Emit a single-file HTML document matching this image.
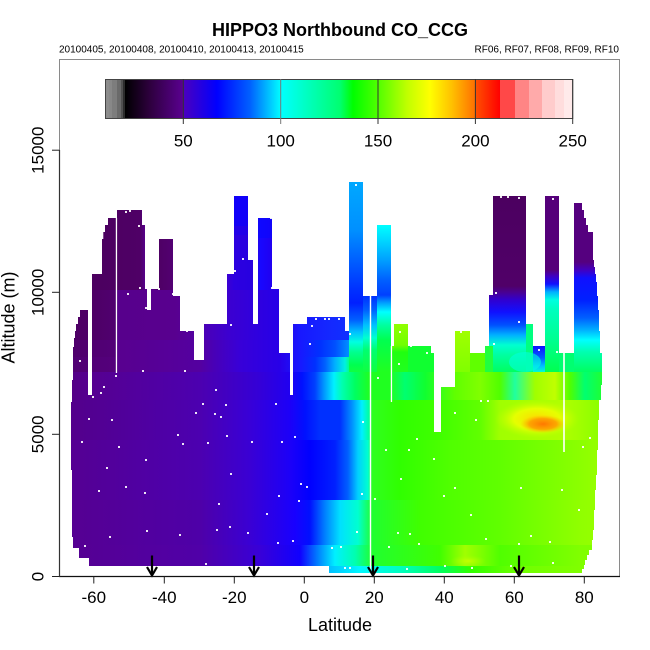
<!DOCTYPE html>
<html><head><meta charset="utf-8"><style>
html,body{margin:0;padding:0;background:#fff;}
svg{display:block;}
text{font-family:"Liberation Sans",Arial,sans-serif;fill:#000;}
</style></head><body>
<svg width="650" height="650" viewBox="0 0 650 650" xmlns="http://www.w3.org/2000/svg">
<defs>
<linearGradient id="cb" gradientUnits="userSpaceOnUse" x1="0" y1="0" x2="650" y2="0">
<stop offset="19.23%" stop-color="#000000"/><stop offset="23.08%" stop-color="#2e003e"/><stop offset="28.15%" stop-color="#5a0090"/><stop offset="28.31%" stop-color="#4a00c0"/><stop offset="33.38%" stop-color="#0000ff"/><stop offset="38.46%" stop-color="#0060ff"/><stop offset="43.23%" stop-color="#00ffff"/><stop offset="52.31%" stop-color="#00ff70"/><stop offset="54.31%" stop-color="#00ff00"/><stop offset="58.15%" stop-color="#50ff00"/><stop offset="62.62%" stop-color="#c0ff00"/><stop offset="66.15%" stop-color="#ffff00"/><stop offset="69.54%" stop-color="#ffc000"/><stop offset="73.08%" stop-color="#ff7000"/><stop offset="73.15%" stop-color="#ff5000"/><stop offset="76.92%" stop-color="#ff0000"/>
</linearGradient>
<linearGradient id="u1" gradientUnits="userSpaceOnUse" x1="0" y1="0" x2="650" y2="0">
<stop offset="9.23%" stop-color="#4a0060"/><stop offset="15.38%" stop-color="#4c0060"/><stop offset="21.54%" stop-color="#4f0066"/><stop offset="22.31%" stop-color="#56008a"/><stop offset="23.38%" stop-color="#56008a"/><stop offset="24.31%" stop-color="#4e0064"/><stop offset="26.46%" stop-color="#520070"/><stop offset="27.08%" stop-color="#58008f"/><stop offset="31.38%" stop-color="#58008f"/><stop offset="32.31%" stop-color="#4800b8"/><stop offset="35.08%" stop-color="#3a00d4"/><stop offset="36%" stop-color="#2c00e0"/><stop offset="38.46%" stop-color="#2800e0"/><stop offset="39.38%" stop-color="#3000d8"/><stop offset="40%" stop-color="#1808ff"/><stop offset="41.85%" stop-color="#2000f0"/><stop offset="43.08%" stop-color="#2600e8"/><stop offset="46.15%" stop-color="#1818ff"/><stop offset="53.69%" stop-color="#1828ff"/>
</linearGradient>
<linearGradient id="u2" gradientUnits="userSpaceOnUse" x1="0" y1="0" x2="650" y2="0">
<stop offset="9.23%" stop-color="#4d0064"/><stop offset="14.62%" stop-color="#4e0066"/><stop offset="17.85%" stop-color="#500070"/><stop offset="18.15%" stop-color="#57008c"/><stop offset="26.92%" stop-color="#58008f"/><stop offset="30%" stop-color="#5400a0"/><stop offset="31.54%" stop-color="#4a00b8"/><stop offset="35.08%" stop-color="#3c00d0"/><stop offset="40%" stop-color="#2e00e0"/><stop offset="43.85%" stop-color="#2400ea"/><stop offset="46.15%" stop-color="#1818ff"/><stop offset="50.77%" stop-color="#1428ff"/><stop offset="53.69%" stop-color="#1030ff"/>
</linearGradient>
<linearGradient id="u3a" gradientUnits="userSpaceOnUse" x1="0" y1="0" x2="650" y2="0">
<stop offset="9.23%" stop-color="#4e0068"/><stop offset="17.85%" stop-color="#520078"/><stop offset="18.15%" stop-color="#58008f"/><stop offset="30.77%" stop-color="#5400a0"/><stop offset="33.08%" stop-color="#4800b8"/><stop offset="36.92%" stop-color="#3800d8"/><stop offset="43.08%" stop-color="#2800e8"/><stop offset="46.15%" stop-color="#1818ff"/><stop offset="49.23%" stop-color="#0030ff"/><stop offset="51.54%" stop-color="#0050ff"/><stop offset="53.69%" stop-color="#0090ff"/>
</linearGradient>
<linearGradient id="u3b" gradientUnits="userSpaceOnUse" x1="0" y1="0" x2="650" y2="0">
<stop offset="9.23%" stop-color="#500070"/><stop offset="17.85%" stop-color="#54007c"/><stop offset="18.15%" stop-color="#58008f"/><stop offset="30.77%" stop-color="#5400a0"/><stop offset="33.08%" stop-color="#4800b8"/><stop offset="36.92%" stop-color="#3800d8"/><stop offset="43.08%" stop-color="#2800e8"/><stop offset="46.15%" stop-color="#1818ff"/><stop offset="48.46%" stop-color="#0030ff"/><stop offset="50%" stop-color="#0060ff"/><stop offset="51.54%" stop-color="#00b0ff"/><stop offset="53.08%" stop-color="#00f0e0"/><stop offset="53.69%" stop-color="#00ff90"/>
</linearGradient>
<linearGradient id="r1" gradientUnits="userSpaceOnUse" x1="0" y1="0" x2="650" y2="0">
<stop offset="9.23%" stop-color="#520080"/><stop offset="13.85%" stop-color="#560090"/><stop offset="30.77%" stop-color="#4c00b0"/><stop offset="40%" stop-color="#3400d8"/><stop offset="44.62%" stop-color="#2000f0"/><stop offset="46.46%" stop-color="#0010ff"/><stop offset="48.46%" stop-color="#0040ff"/><stop offset="50%" stop-color="#00a0ff"/><stop offset="51.38%" stop-color="#00f0ff"/><stop offset="52.62%" stop-color="#00ffb0"/><stop offset="54.62%" stop-color="#00ff60"/><stop offset="56.92%" stop-color="#20ff20"/><stop offset="60%" stop-color="#20ff20"/><stop offset="62.31%" stop-color="#00ff70"/><stop offset="65.38%" stop-color="#10ff30"/><stop offset="70%" stop-color="#60ff00"/><stop offset="73.85%" stop-color="#80ff00"/><stop offset="76.92%" stop-color="#50ff00"/><stop offset="79.23%" stop-color="#20ffa0"/><stop offset="82.31%" stop-color="#a0ff00"/><stop offset="85.38%" stop-color="#c0ff00"/><stop offset="87.69%" stop-color="#50ff00"/><stop offset="90%" stop-color="#00ff70"/><stop offset="92.77%" stop-color="#20ff30"/>
</linearGradient>
<linearGradient id="r2" gradientUnits="userSpaceOnUse" x1="0" y1="0" x2="650" y2="0">
<stop offset="9.23%" stop-color="#540088"/><stop offset="30.77%" stop-color="#4c00b0"/><stop offset="38.46%" stop-color="#3800d8"/><stop offset="44.62%" stop-color="#1c00f8"/><stop offset="46.92%" stop-color="#0010ff"/><stop offset="49.23%" stop-color="#0030ff"/><stop offset="52.31%" stop-color="#0030ff"/><stop offset="54.15%" stop-color="#0090ff"/><stop offset="55.69%" stop-color="#00f0ff"/><stop offset="56.77%" stop-color="#00ffa0"/><stop offset="57.23%" stop-color="#30ff20"/><stop offset="61.54%" stop-color="#30ff00"/><stop offset="67.69%" stop-color="#40ff00"/><stop offset="73.85%" stop-color="#60ff00"/><stop offset="76.92%" stop-color="#a0ff00"/><stop offset="86.15%" stop-color="#b0ff00"/><stop offset="89.23%" stop-color="#a0ff00"/><stop offset="92.77%" stop-color="#88ff00"/>
</linearGradient>
<linearGradient id="r3" gradientUnits="userSpaceOnUse" x1="0" y1="0" x2="650" y2="0">
<stop offset="9.23%" stop-color="#550090"/><stop offset="30.77%" stop-color="#4c00b0"/><stop offset="38.46%" stop-color="#3a00d4"/><stop offset="44.62%" stop-color="#1c00f8"/><stop offset="47.69%" stop-color="#0000ff"/><stop offset="51.54%" stop-color="#0020ff"/><stop offset="53.54%" stop-color="#0060ff"/><stop offset="55.08%" stop-color="#00d0ff"/><stop offset="56.62%" stop-color="#00ffd0"/><stop offset="57.23%" stop-color="#30ff20"/><stop offset="61.54%" stop-color="#30ff00"/><stop offset="69.23%" stop-color="#50ff00"/><stop offset="76.92%" stop-color="#60ff00"/><stop offset="86.15%" stop-color="#80ff00"/><stop offset="92.77%" stop-color="#98ff00"/>
</linearGradient>
<linearGradient id="r4" gradientUnits="userSpaceOnUse" x1="0" y1="0" x2="650" y2="0">
<stop offset="9.23%" stop-color="#560090"/><stop offset="30.77%" stop-color="#4e00a8"/><stop offset="38.46%" stop-color="#3a00d4"/><stop offset="45.38%" stop-color="#1800ff"/><stop offset="47.69%" stop-color="#0010ff"/><stop offset="50%" stop-color="#0080ff"/><stop offset="52.31%" stop-color="#00e0ff"/><stop offset="55.08%" stop-color="#00ffd0"/><stop offset="57.23%" stop-color="#20ff30"/><stop offset="64.62%" stop-color="#40ff00"/><stop offset="76.92%" stop-color="#60ff00"/><stop offset="89.23%" stop-color="#90ff00"/><stop offset="92.77%" stop-color="#98ff00"/>
</linearGradient>
<linearGradient id="r5" gradientUnits="userSpaceOnUse" x1="0" y1="0" x2="650" y2="0">
<stop offset="9.23%" stop-color="#560090"/><stop offset="30.77%" stop-color="#5000a8"/><stop offset="40%" stop-color="#3800d8"/><stop offset="46.15%" stop-color="#1000ff"/><stop offset="48.92%" stop-color="#0080ff"/><stop offset="51.54%" stop-color="#00f0ff"/><stop offset="54.62%" stop-color="#00ffb0"/><stop offset="57.23%" stop-color="#20ff30"/><stop offset="67.69%" stop-color="#40ff00"/><stop offset="71.54%" stop-color="#a0ff00"/><stop offset="73.85%" stop-color="#80ff00"/><stop offset="76.92%" stop-color="#50ff00"/><stop offset="89.23%" stop-color="#80ff00"/>
</linearGradient>
<linearGradient id="r6" gradientUnits="userSpaceOnUse" x1="0" y1="0" x2="650" y2="0">
<stop offset="50.62%" stop-color="#00c0ff"/><stop offset="55.38%" stop-color="#00f8ff"/><stop offset="61.54%" stop-color="#00ffc0"/><stop offset="67.69%" stop-color="#00ff60"/><stop offset="72.31%" stop-color="#30ff00"/><stop offset="80%" stop-color="#70ff00"/><stop offset="89.23%" stop-color="#80ff00"/>
</linearGradient>
<linearGradient id="m3" gradientUnits="userSpaceOnUse" x1="0" y1="0" x2="0" y2="650">
<stop offset="28%" stop-color="#00a8ff"/><stop offset="35.38%" stop-color="#0090ff"/><stop offset="40%" stop-color="#0060ff"/><stop offset="44.62%" stop-color="#0030ff"/><stop offset="46.62%" stop-color="#0020ff"/><stop offset="49.23%" stop-color="#0060ff"/><stop offset="51.08%" stop-color="#00c0ff"/><stop offset="52.62%" stop-color="#00ffe0"/><stop offset="54.15%" stop-color="#00ff90"/><stop offset="56.15%" stop-color="#00ff50"/><stop offset="57.23%" stop-color="#10ff40"/>
</linearGradient>
<linearGradient id="m4" gradientUnits="userSpaceOnUse" x1="0" y1="0" x2="0" y2="650">
<stop offset="45.54%" stop-color="#0030ff"/><stop offset="47.69%" stop-color="#0060ff"/><stop offset="50%" stop-color="#00c0ff"/><stop offset="52%" stop-color="#00ffd0"/><stop offset="53.85%" stop-color="#00ff70"/><stop offset="57.23%" stop-color="#10ff40"/>
</linearGradient>
<linearGradient id="m5" gradientUnits="userSpaceOnUse" x1="0" y1="0" x2="0" y2="650">
<stop offset="34.62%" stop-color="#00ffff"/><stop offset="36.92%" stop-color="#00d8ff"/><stop offset="40%" stop-color="#00a0ff"/><stop offset="43.08%" stop-color="#0060ff"/><stop offset="45.38%" stop-color="#0040ff"/><stop offset="46.62%" stop-color="#00a0ff"/><stop offset="48%" stop-color="#00ffff"/><stop offset="50%" stop-color="#00ffa0"/><stop offset="52.31%" stop-color="#00ff50"/><stop offset="57.23%" stop-color="#20ff20"/>
</linearGradient>
<linearGradient id="m6" gradientUnits="userSpaceOnUse" x1="0" y1="0" x2="0" y2="650">
<stop offset="49.85%" stop-color="#90ff00"/><stop offset="53.08%" stop-color="#70ff00"/><stop offset="54.15%" stop-color="#20ff10"/><stop offset="57.23%" stop-color="#20ff20"/>
</linearGradient>
<linearGradient id="m7" gradientUnits="userSpaceOnUse" x1="0" y1="0" x2="0" y2="650">
<stop offset="50.92%" stop-color="#a0ff00"/><stop offset="57.23%" stop-color="#80ff00"/>
</linearGradient>
<linearGradient id="m8" gradientUnits="userSpaceOnUse" x1="0" y1="0" x2="0" y2="650">
<stop offset="30.15%" stop-color="#4c0060"/><stop offset="44%" stop-color="#500068"/><stop offset="44.92%" stop-color="#4a0090"/><stop offset="46.15%" stop-color="#3000d0"/><stop offset="48%" stop-color="#1010ff"/><stop offset="50%" stop-color="#0050ff"/><stop offset="51.54%" stop-color="#00b0ff"/><stop offset="53.08%" stop-color="#00ffd0"/><stop offset="54.62%" stop-color="#00ffa0"/><stop offset="57.23%" stop-color="#00ff60"/>
</linearGradient>
<linearGradient id="m9b" gradientUnits="userSpaceOnUse" x1="0" y1="0" x2="0" y2="650">
<stop offset="53.23%" stop-color="#1010ff"/><stop offset="55.08%" stop-color="#0060ff"/><stop offset="56.31%" stop-color="#00c0ff"/><stop offset="57.23%" stop-color="#00ffd0"/>
</linearGradient>
<linearGradient id="m10" gradientUnits="userSpaceOnUse" x1="0" y1="0" x2="0" y2="650">
<stop offset="30.15%" stop-color="#55007a"/><stop offset="41.54%" stop-color="#55007a"/><stop offset="42.46%" stop-color="#4000c0"/><stop offset="43.69%" stop-color="#1010ff"/><stop offset="44.92%" stop-color="#00b0ff"/><stop offset="46.15%" stop-color="#00ffe0"/><stop offset="47.5%" stop-color="#00ffc0"/><stop offset="52.31%" stop-color="#00ff90"/><stop offset="57.23%" stop-color="#00ff50"/>
</linearGradient>
<linearGradient id="m12" gradientUnits="userSpaceOnUse" x1="0" y1="0" x2="0" y2="650">
<stop offset="31.23%" stop-color="#55007f"/><stop offset="40.31%" stop-color="#55007f"/><stop offset="41.54%" stop-color="#4200c0"/><stop offset="42.77%" stop-color="#1010ff"/><stop offset="46.15%" stop-color="#0020ff"/><stop offset="48.92%" stop-color="#0060ff"/><stop offset="50.77%" stop-color="#00b0ff"/><stop offset="52.31%" stop-color="#00ffff"/><stop offset="54.15%" stop-color="#00ffb0"/><stop offset="57.23%" stop-color="#00ff60"/>
</linearGradient>
<radialGradient id="hy">
<stop offset="0%" stop-color="#ffd800" stop-opacity="1"/><stop offset="55%" stop-color="#f0ff00" stop-opacity="0.85"/><stop offset="100%" stop-color="#c0ff00" stop-opacity="0"/>
</radialGradient>
<radialGradient id="ho">
<stop offset="0%" stop-color="#ff7800" stop-opacity="1"/><stop offset="60%" stop-color="#ff9800" stop-opacity="0.85"/><stop offset="100%" stop-color="#ffc000" stop-opacity="0"/>
</radialGradient>
<radialGradient id="hg">
<stop offset="0%" stop-color="#c8ff00" stop-opacity="0.9"/><stop offset="100%" stop-color="#a0ff00" stop-opacity="0"/>
</radialGradient>
<clipPath id="dc">
<polygon points="73,380 73,347 74,347 74,338 75,338 75,331 76,331 76,324 78,324 78,317 80,317 80,310 88,310 88,395 92,395 92,274 102,274 102,239 103.3,239 103.3,232 105,232 105,225 108,225 108,218 117,218 117,210 142,210 142,225 145,225 145,289 147,289 147,310 151,310 151,289 159,289 159,239 173,239 173,296 180,296 180,331 194,331 194,360 204,360 204,324 227,324 227,274 234,274 234,196 248,196 248,260 253,260 253,324 258,324 258,218 272,218 272,289 279,289 279,353 290,353 290,395 293,395 293,324 307,324 307,317 345,317 345,331 349,331 349,182 363,182 363,296 377,296 377,225 391,225 391,346 394,346 394,324 408,324 408,346 431,346 431,353 434,353 434,432 441,432 441,387 455,387 455,331 470,331 470,353 485,353 485,346 489,346 489,295 493,295 493,196 526,196 526,324 533,324 533,346 545,346 545,196 559,196 559,353 574,353 574,203 582,203 582,210 584,210 584,218 586,218 586,225 588,225 588,232 593,232 593,260 594,260 594,267 595,267 595,274 596,274 596,282 597,282 597,296 598,296 598,310 599,310 599,331 600,331 600,353 602,353 602,385 601,385 601,400 599,400 599,420 598,420 598,450 597,450 597,475 596,475 596,490 595,490 595,510 594,510 594,530 593,530 593,540 592,540 592,550 589,550 589,555 587,555 587,560 585,560 585,565 584,565 584,569 582,569 582,573 329,573 329,566 89,566 89,558 79,558 79,548 73,548 73,537 72,537 72,470 71,470 71,402 72,402 72,380"/>
</clipPath>
</defs>

<!-- heatmap -->
<g clip-path="url(#dc)">
<rect x="60" y="370" width="545" height="31" fill="url(#r1)"/>
<rect x="60" y="400" width="545" height="41" fill="url(#r2)"/>
<rect x="60" y="440" width="545" height="61" fill="url(#r3)"/>
<rect x="60" y="500" width="545" height="46" fill="url(#r4)"/>
<rect x="60" y="545" width="545" height="22" fill="url(#r5)"/>
<rect x="329" y="566" width="276" height="8" fill="url(#r6)"/>
<rect x="60" y="180" width="289" height="111" fill="url(#u1)"/>
<rect x="60" y="290" width="289" height="51" fill="url(#u2)"/>
<rect x="60" y="340" width="289" height="18" fill="url(#u3a)"/>
<rect x="60" y="357" width="289" height="15" fill="url(#u3b)"/>
<rect x="234" y="196" width="14" height="30" fill="#0a00ff" opacity="0.8"/>
<rect x="234" y="220" width="14" height="15" fill="#1800f0" opacity="0.5"/>
<rect x="258" y="218" width="14" height="20" fill="#0808ff" opacity="0.6"/>
<rect x="349" y="180" width="14" height="192" fill="url(#m3)"/>
<rect x="363" y="290" width="14" height="82" fill="url(#m4)"/>
<rect x="377" y="220" width="14" height="152" fill="url(#m5)"/>
<rect x="391" y="320" width="17" height="52" fill="url(#m6)"/>
<rect x="408" y="340" width="26" height="32" fill="#10ff30"/>
<rect x="455" y="325" width="15" height="47" fill="url(#m7)"/>
<rect x="470" y="340" width="15" height="32" fill="#60ff00"/>
<rect x="485" y="340" width="8" height="32" fill="#20ff40"/>
<rect x="489" y="290" width="4" height="56" fill="url(#m8)"/>
<rect x="493" y="190" width="33" height="182" fill="url(#m8)"/>
<rect x="526" y="320" width="7" height="52" fill="#00ff80"/>
<rect x="533" y="340" width="12" height="32" fill="url(#m9b)"/>
<rect x="545" y="190" width="14" height="182" fill="url(#m10)"/>
<rect x="559" y="350" width="15" height="22" fill="#00ff70"/>
<rect x="574" y="200" width="30" height="172" fill="url(#m12)"/>
<ellipse cx="537" cy="419" rx="42" ry="19" fill="url(#hy)"/>
<ellipse cx="543" cy="424" rx="23" ry="9" fill="url(#ho)"/>
<ellipse cx="468" cy="561" rx="18" ry="6" fill="url(#hg)"/>
<ellipse cx="525" cy="362" rx="16" ry="10" fill="#00ffe0" opacity="0.6"/>
<!-- white dots -->
<g fill="#ffffff" opacity="0.9">
<rect x="103" y="386" width="2" height="2"/><rect x="100" y="392" width="2" height="2"/><rect x="92" y="396" width="2" height="2"/><rect x="202" y="403" width="2" height="2"/><rect x="225" y="404" width="2" height="2"/><rect x="195" y="412" width="2" height="2"/><rect x="214" y="413" width="2" height="2"/><rect x="220" y="416" width="2" height="2"/><rect x="275" y="403" width="2" height="2"/><rect x="88" y="418" width="2" height="2"/><rect x="111" y="419" width="2" height="2"/><rect x="177" y="434" width="2" height="2"/><rect x="226" y="435" width="2" height="2"/><rect x="182" y="443" width="2" height="2"/><rect x="207" y="442" width="2" height="2"/><rect x="251" y="441" width="2" height="2"/><rect x="281" y="441" width="2" height="2"/><rect x="294" y="436" width="2" height="2"/><rect x="81" y="441" width="2" height="2"/><rect x="118" y="446" width="2" height="2"/><rect x="145" y="459" width="2" height="2"/><rect x="230" y="473" width="2" height="2"/><rect x="300" y="483" width="2" height="2"/><rect x="106" y="467" width="2" height="2"/><rect x="125" y="486" width="2" height="2"/><rect x="144" y="492" width="2" height="2"/><rect x="278" y="495" width="2" height="2"/><rect x="306" y="486" width="2" height="2"/><rect x="98" y="490" width="2" height="2"/><rect x="298" y="500" width="2" height="2"/><rect x="218" y="503" width="2" height="2"/><rect x="266" y="513" width="2" height="2"/><rect x="229" y="526" width="2" height="2"/><rect x="216" y="529" width="2" height="2"/><rect x="247" y="532" width="2" height="2"/><rect x="146" y="530" width="2" height="2"/><rect x="179" y="534" width="2" height="2"/><rect x="109" y="536" width="2" height="2"/><rect x="277" y="542" width="2" height="2"/><rect x="292" y="540" width="2" height="2"/><rect x="84" y="545" width="2" height="2"/><rect x="349" y="567" width="2" height="2"/><rect x="205" y="563" width="2" height="2"/><rect x="340" y="546" width="2" height="2"/>
<rect x="377" y="377" width="2" height="2"/><rect x="480" y="400" width="2" height="2"/><rect x="487" y="400" width="2" height="2"/><rect x="454" y="412" width="2" height="2"/><rect x="475" y="419" width="2" height="2"/><rect x="362" y="421" width="2" height="2"/><rect x="416" y="438" width="2" height="2"/><rect x="385" y="449" width="2" height="2"/><rect x="408" y="449" width="2" height="2"/><rect x="433" y="458" width="2" height="2"/><rect x="400" y="478" width="2" height="2"/><rect x="454" y="487" width="2" height="2"/><rect x="361" y="493" width="2" height="2"/><rect x="443" y="495" width="2" height="2"/><rect x="520" y="487" width="2" height="2"/><rect x="561" y="489" width="2" height="2"/><rect x="582" y="446" width="2" height="2"/><rect x="589" y="437" width="2" height="2"/><rect x="409" y="533" width="2" height="2"/><rect x="356" y="531" width="2" height="2"/><rect x="397" y="532" width="2" height="2"/><rect x="470" y="514" width="2" height="2"/><rect x="374" y="498" width="2" height="2"/><rect x="578" y="509" width="2" height="2"/><rect x="530" y="535" width="2" height="2"/><rect x="549" y="541" width="2" height="2"/><rect x="518" y="543" width="2" height="2"/><rect x="331" y="547" width="2" height="2"/><rect x="388" y="546" width="2" height="2"/><rect x="418" y="543" width="2" height="2"/><rect x="485" y="538" width="2" height="2"/><rect x="344" y="567" width="2" height="2"/><rect x="406" y="568" width="2" height="2"/><rect x="444" y="565" width="2" height="2"/><rect x="471" y="567" width="2" height="2"/><rect x="552" y="562" width="2" height="2"/><rect x="510" y="565" width="2" height="2"/>
<rect x="355" y="184" width="2" height="2"/><rect x="338" y="318" width="2" height="2"/><rect x="349" y="333" width="2" height="2"/><rect x="412" y="326" width="2" height="2"/><rect x="399" y="331" width="2" height="2"/><rect x="410" y="345" width="2" height="2"/><rect x="426" y="352" width="2" height="2"/><rect x="460" y="331" width="2" height="2"/><rect x="500" y="196" width="2" height="2"/><rect x="507" y="196" width="2" height="2"/><rect x="518" y="197" width="2" height="2"/><rect x="552" y="198" width="2" height="2"/><rect x="495" y="292" width="2" height="2"/><rect x="518" y="321" width="2" height="2"/><rect x="493" y="343" width="2" height="2"/><rect x="538" y="349" width="2" height="2"/><rect x="556" y="351" width="2" height="2"/><rect x="398" y="363" width="2" height="2"/>
<rect x="125" y="211" width="2" height="2"/><rect x="129" y="210" width="2" height="2"/><rect x="138" y="225" width="2" height="2"/><rect x="139" y="287" width="2" height="2"/><rect x="127" y="293" width="2" height="2"/><rect x="145" y="307" width="2" height="2"/><rect x="158" y="288" width="2" height="2"/><rect x="172" y="293" width="2" height="2"/><rect x="186" y="330" width="2" height="2"/><rect x="184" y="370" width="2" height="2"/><rect x="215" y="389" width="2" height="2"/><rect x="242" y="258" width="2" height="2"/><rect x="234" y="270" width="2" height="2"/><rect x="270" y="217" width="2" height="2"/><rect x="271" y="287" width="2" height="2"/><rect x="230" y="324" width="2" height="2"/><rect x="311" y="325" width="2" height="2"/><rect x="315" y="318" width="2" height="2"/><rect x="324" y="318" width="2" height="2"/><rect x="328" y="318" width="2" height="2"/><rect x="309" y="343" width="2" height="2"/><rect x="79" y="360" width="2" height="2"/><rect x="115" y="375" width="2" height="2"/><rect x="142" y="370" width="2" height="2"/>
</g>
<!-- white lines -->
<rect x="115.8" y="218" width="1.3" height="155" fill="#ffffff"/>
<rect x="369.8" y="296" width="1.4" height="278" fill="#ffffff"/>
<rect x="390.8" y="346" width="1.3" height="56" fill="#ffffff"/>
<rect x="563.2" y="353" width="1.6" height="99" fill="#ffffff"/>
</g>

<!-- colorbar -->
<rect x="105" y="79" width="4" height="39.5" fill="#8c8c8c"/>
<rect x="109" y="79" width="3" height="39.5" fill="#888888"/>
<rect x="112" y="79" width="5" height="39.5" fill="#7d7d7d"/>
<rect x="117" y="79" width="4" height="39.5" fill="#6a6a6a"/>
<rect x="121" y="79" width="2" height="39.5" fill="#505050"/>
<rect x="123" y="79" width="2" height="39.5" fill="#2c2c2c"/>
<rect x="125" y="79" width="375.5" height="39.5" fill="url(#cb)"/>
<rect x="500" y="79" width="15" height="39.5" fill="#ff4848"/>
<rect x="515" y="79" width="14" height="39.5" fill="#ff8585"/>
<rect x="529" y="79" width="13" height="39.5" fill="#ffaaaa"/>
<rect x="542" y="79" width="13" height="39.5" fill="#ffcccc"/>
<rect x="555" y="79" width="9" height="39.5" fill="#ffdddd"/>
<rect x="564" y="79" width="8.7" height="39.5" fill="#ffeaea"/>
<rect x="105.5" y="79.5" width="467.2" height="39" fill="none" stroke="#444" stroke-width="1"/>
<g stroke="#333" stroke-width="1">
<line x1="183.3" y1="79" x2="183.3" y2="124"/>
<line x1="280.7" y1="79" x2="280.7" y2="124" stroke="#777"/>
<line x1="378" y1="79" x2="378" y2="124"/>
<line x1="475.4" y1="79" x2="475.4" y2="124"/>
<line x1="572.7" y1="79" x2="572.7" y2="124"/>
</g>
<g font-size="17" text-anchor="middle">
<text x="183.3" y="146.5">50</text>
<text x="280.7" y="146.5">100</text>
<text x="378" y="146.5">150</text>
<text x="475.4" y="146.5">200</text>
<text x="572.7" y="146.5">250</text>
</g>

<!-- arrows -->
<g stroke="#000" stroke-width="2.2" fill="none">
<line x1="152" y1="555.5" x2="152" y2="575"/><polyline points="147,567 152,575.5 157,567"/>
<line x1="254" y1="555.5" x2="254" y2="575"/><polyline points="249,567 254,575.5 259,567"/>
<line x1="373" y1="555.5" x2="373" y2="575"/><polyline points="368,567 373,575.5 378,567"/>
<line x1="519" y1="555.5" x2="519" y2="575"/><polyline points="514,567 519,575.5 524,567"/>
</g>

<!-- box and axes -->
<rect x="59.5" y="59.5" width="560" height="517" fill="none" stroke="#8a8a8a" stroke-width="1"/>
<line x1="59" y1="576.5" x2="620" y2="576.5" stroke="#111" stroke-width="1.2"/>
<line x1="59.5" y1="150" x2="59.5" y2="577" stroke="#333" stroke-width="1.2"/>
<g stroke="#222" stroke-width="1">
<line x1="52" y1="576.5" x2="59.5" y2="576.5"/>
<line x1="52" y1="434.3" x2="59.5" y2="434.3"/>
<line x1="52" y1="292.3" x2="59.5" y2="292.3"/>
<line x1="52" y1="150.2" x2="59.5" y2="150.2"/>
<line x1="93.8" y1="576.5" x2="93.8" y2="583.5"/>
<line x1="164.3" y1="576.5" x2="164.3" y2="583.5"/>
<line x1="234.3" y1="576.5" x2="234.3" y2="583.5"/>
<line x1="304.3" y1="576.5" x2="304.3" y2="583.5"/>
<line x1="374.3" y1="576.5" x2="374.3" y2="583.5"/>
<line x1="444.3" y1="576.5" x2="444.3" y2="583.5"/>
<line x1="514.3" y1="576.5" x2="514.3" y2="583.5"/>
<line x1="584.3" y1="576.5" x2="584.3" y2="583.5"/>
</g>
<g font-size="17" text-anchor="middle">
<text x="93.8" y="603">-60</text>
<text x="164.3" y="603">-40</text>
<text x="234.3" y="603">-20</text>
<text x="304.3" y="603">0</text>
<text x="374.3" y="603">20</text>
<text x="444.3" y="603">40</text>
<text x="514.3" y="603">60</text>
<text x="584.3" y="603">80</text>
<text transform="translate(43.5,576.5) rotate(-90)">0</text>
<text transform="translate(43.5,434.3) rotate(-90)">5000</text>
<text transform="translate(43.5,292.3) rotate(-90)">10000</text>
<text transform="translate(43.5,150.2) rotate(-90)">15000</text>
</g>
<text x="340" y="631" font-size="18" text-anchor="middle">Latitude</text>
<text transform="translate(14.5,317.5) rotate(-90)" font-size="18" text-anchor="middle">Altitude (m)</text>
<text x="340" y="36" font-size="18" font-weight="bold" text-anchor="middle">HIPPO3 Northbound CO_CCG</text>
<text x="59" y="52.5" font-size="10">20100405, 20100408, 20100410, 20100413, 20100415</text>
<text x="619" y="52.5" font-size="10" text-anchor="end">RF06, RF07, RF08, RF09, RF10</text>
</svg>
</body></html>
